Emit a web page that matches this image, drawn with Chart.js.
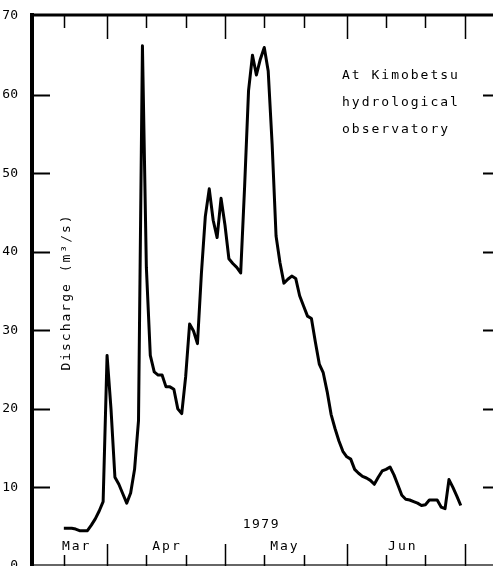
<!DOCTYPE html>
<html>
<head>
<meta charset="utf-8">
<title>Discharge at Kimobetsu, 1979</title>
<script src="https://cdn.jsdelivr.net/npm/chart.js@4.4.0/dist/chart.umd.min.js"></script>
<style>
  html, body { margin: 0; padding: 0; background: #fff; }
  #discharge { display: block; }
</style>
</head>
<body>
<canvas id="discharge" width="493" height="566"></canvas>
<script>
// Day numbers counted from 1 March 1979 (1 Apr = 32, 1 May = 62, 1 Jun = 93)
const days = [
    21, 22, 23, 24, 25, 26, 27, 28, 29, 30,
    31, 32, 33, 34, 35, 36, 37, 38, 39, 40,
    41, 42, 43, 44, 45, 46, 47, 48, 49, 50,
    51, 52, 53, 54, 55, 56, 57, 58, 59, 60,
    61, 62, 63, 64, 65, 66, 67, 68, 69, 70,
    71, 72, 73, 74, 75, 76, 77, 78, 79, 80,
    81, 82, 83, 84, 85, 86, 87, 88, 89, 90,
    91, 92, 93, 94, 95, 96, 97, 98, 99, 100,
    101, 102, 103, 104, 105, 106, 107, 108, 109, 110,
    111, 112, 113, 114, 115, 116, 117, 118, 119, 120,
    121, 122
];

// Daily discharge (m3/s)
const discharge = [
    4.8, 4.8, 4.8, 4.7, 4.5, 4.5, 4.5, 5.2, 6.0, 7.0,
    8.2, 26.8, 20.0, 11.3, 10.4, 9.2, 8.0, 9.3, 12.3, 18.5,
    66.2, 38.0, 26.8, 24.7, 24.3, 24.3, 22.8, 22.8, 22.5, 20.0,
    19.4, 24.1, 30.8, 29.9, 28.3, 37.2, 44.5, 48.0, 44.0, 41.8,
    46.8, 43.4, 39.1, 38.5, 38.0, 37.3, 48.3, 60.5, 65.0, 62.5,
    64.5, 66.0, 63.0, 53.7, 42.0, 38.6, 36.0, 36.5, 36.9, 36.6,
    34.4, 33.1, 31.8, 31.5, 28.5, 25.7, 24.6, 22.2, 19.3, 17.5,
    15.9, 14.6, 13.9, 13.6, 12.3, 11.8, 11.4, 11.2, 10.9, 10.4,
    11.3, 12.1, 12.3, 12.6, 11.6, 10.3, 9.0, 8.5, 8.4, 8.2,
    8.0, 7.7, 7.8, 8.4, 8.4, 8.4, 7.5, 7.3, 11.0, 10.0,
    8.9, 7.7
];

const yTickValues = [10, 20, 30, 40, 50, 60];
const monthLabels = ['Mar', 'Apr', 'May', 'Jun'];
const monthLabelDays = [24, 47, 77, 107];
const monthStartDays = [32, 62, 93, 123];
const tenDayDays = [21, 42, 52, 72, 82, 103, 113];
const yearLabel = '1979';
const yearLabelDay = 71;
const yAxisTitle = 'Discharge (m\u00b3/s)';
const stationNote = ['At Kimobetsu', 'hydrological', 'observatory'];

const MONO = '"DejaVu Sans Mono", "Liberation Mono", monospace';

// frame, inward ticks and in-plot text
const framePlugin = {
    id: 'frame',
    afterDatasetsDraw(chart) {
        const { ctx, chartArea: a, scales: { x, y } } = chart;
        ctx.save();
        ctx.strokeStyle = '#000';
        ctx.lineCap = 'butt';

        // bottom axis (thin)
        ctx.lineWidth = 1.5;
        ctx.strokeStyle = '#333';
        ctx.beginPath();
        ctx.moveTo(a.left, a.bottom - 1);
        ctx.lineTo(a.right, a.bottom - 1);
        ctx.stroke();

        ctx.strokeStyle = '#000';
        // left axis
        ctx.lineWidth = 4;
        ctx.beginPath();
        ctx.moveTo(a.left, a.top - 3);
        ctx.lineTo(a.left, a.bottom);
        ctx.stroke();
        // top axis
        ctx.lineWidth = 3;
        ctx.beginPath();
        ctx.moveTo(a.left - 2, a.top - 1);
        ctx.lineTo(a.right, a.top - 1);
        ctx.stroke();

        // y ticks, left and right
        ctx.lineWidth = 2;
        yTickValues.forEach(v => {
            const py = Math.round(y.getPixelForValue(v)) + 0.5;
            ctx.beginPath();
            ctx.moveTo(a.left, py);
            ctx.lineTo(a.left + 18, py);
            ctx.moveTo(a.right - 10, py);
            ctx.lineTo(a.right, py);
            ctx.stroke();
        });

        // x ticks, top and bottom
        ctx.lineWidth = 1.5;
        const xTick = (d, topLen, botLen) => {
            const px = Math.round(x.getPixelForValue(d)) + 0.5;
            ctx.beginPath();
            ctx.moveTo(px, a.top);
            ctx.lineTo(px, a.top + topLen);
            ctx.moveTo(px, a.bottom);
            ctx.lineTo(px, a.bottom - botLen);
            ctx.stroke();
        };
        monthStartDays.forEach(d => xTick(d, 23, 22));
        tenDayDays.forEach(d => xTick(d, 12, 11));

        // texts
        ctx.fillStyle = '#000';
        ctx.font = '13px ' + MONO;
        ctx.letterSpacing = '2px';
        ctx.textBaseline = 'middle';
        ctx.textAlign = 'center';
        monthLabels.forEach((m, i) => {
            ctx.fillText(m, x.getPixelForValue(monthLabelDays[i]) + 1, 547);
        });
        ctx.letterSpacing = '1.5px';
        ctx.fillText(yearLabel, x.getPixelForValue(yearLabelDay) + 1, 525);

        ctx.letterSpacing = '2px';
        ctx.textAlign = 'left';
        stationNote.forEach((t, i) => {
            ctx.fillText(t, 342, 76 + i * 27);
        });

        ctx.save();
        ctx.translate(67, 292);
        ctx.rotate(-Math.PI / 2);
        ctx.textAlign = 'center';
        ctx.fillText(yAxisTitle, 0, 0);
        ctx.restore();

        ctx.restore();
    }
};

new Chart(document.getElementById('discharge').getContext('2d'), {
    type: 'line',
    data: {
        datasets: [{
            label: 'Discharge',
            data: days.map((d, i) => ({ x: d, y: discharge[i] })),
            borderColor: '#000',
            borderWidth: 3,
            pointRadius: 0,
            tension: 0,
            fill: false,
            borderJoinStyle: 'round'
        }]
    },
    options: {
        responsive: false,
        animation: false,
        devicePixelRatio: 1,
        layout: { padding: { top: 16, right: 0, bottom: 0, left: 0 } },
        plugins: {
            legend: { display: false },
            tooltip: { enabled: false }
        },
        scales: {
            x: {
                type: 'linear',
                min: 12.9,
                max: 130.2,
                display: false
            },
            y: {
                min: 0,
                max: 70,
                grid: { display: false },
                border: { display: false },
                ticks: {
                    stepSize: 10,
                    padding: 6,
                    color: '#000',
                    font: { family: MONO, size: 13 }
                },
                afterFit: (scale) => {
                    scale.width = 32;
                    scale.paddingTop = 0;
                    scale.paddingBottom = 0;
                }
            }
        }
    },
    plugins: [framePlugin]
});
</script>
</body>
</html>
